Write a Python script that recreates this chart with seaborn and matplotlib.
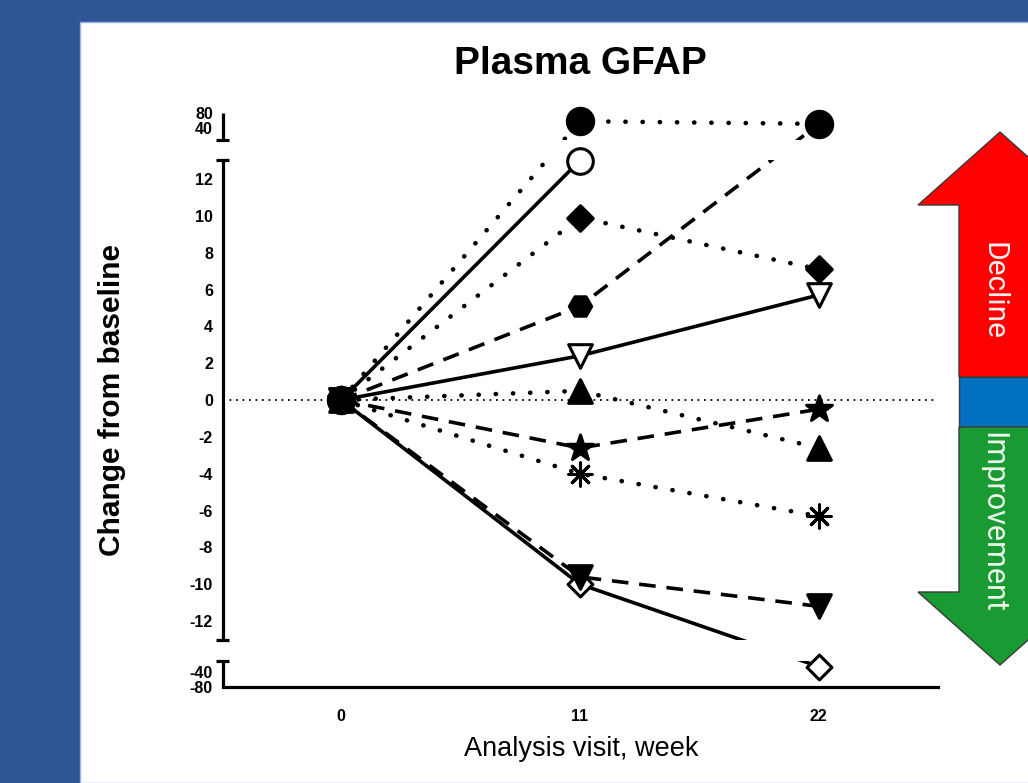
import numpy as np
import pandas as pd
import matplotlib
matplotlib.use("Agg")
import matplotlib.pyplot as plt
from matplotlib.patches import Polygon, Rectangle
import seaborn as sns

# values (change from baseline)
weeks = [0, 11, 22]
circle_filled = [0, 58, 51]
circle_open = [0, 13.0, np.nan]
diamond_filled = [0, 9.9, 7.1]
hexagon_filled = [0, 5.1, 50]
tri_down_open = [0, 2.4, 5.7]
tri_up_filled = [0, 0.5, -2.6]
star_filled = [0, -2.6, -0.5]
asterisk = [0, -4.0, -6.3]
tri_down_filled = [0, -9.6, -11.2]
diamond_open = [0, -10.0, -35]

ytick_vals = [-80, -40, -12, -10, -8, -6, -4, -2, 0, 2, 4, 6, 8, 10, 12, 40, 80]
xtick_vals = [0, 11, 22]

series = {
    "circle_open": circle_open,
    "tri_down_open": tri_down_open,
    "diamond_open": diamond_open,
    "circle_filled": circle_filled,
    "diamond_filled": diamond_filled,
    "hexagon_filled": hexagon_filled,
    "tri_up_filled": tri_up_filled,
    "star_filled": star_filled,
    "asterisk": asterisk,
    "tri_down_filled": tri_down_filled,
}

dot = (0, (0.05, 3.7))
dash = (0, (4.6, 3.0))
styles = {
    "circle_filled": ("o", "black", dot, 360),
    "circle_open": ("o", "white", "-", 340),
    "diamond_filled": ("D", "black", dot, 170),
    "hexagon_filled": ("H", "black", dash, 260),
    "tri_down_open": ("v", "white", "-", 290),
    "tri_up_filled": ("^", "black", dot, 290),
    "star_filled": ("*", "black", dash, 380),
    "asterisk": ((8, 2, 0), "black", dot, 280),
    "tri_down_filled": ("v", "black", dash, 290),
    "diamond_open": ("D", "white", "-", 160),
}

rows = []
for name, vals in series.items():
    for w, v in zip(weeks, vals):
        rows.append({"series": name, "week": w, "change": v})
df = pd.DataFrame(rows).dropna()

sns.set_style("white")
plt.rcParams["font.family"] = ["Liberation Sans", "DejaVu Sans"]
plt.rcParams["text.color"] = "black"
plt.rcParams["axes.labelcolor"] = "black"

W, H = 1028, 783
fig = plt.figure(figsize=(W / 100, H / 100), dpi=100, facecolor="#2F5597")
fig.patches.append(Rectangle((80 / W, 0), 1, 1 - 22 / H, transform=fig.transFigure,
                             facecolor="white", edgecolor="#9DB3DD", lw=1, zorder=-5))

ax = fig.add_axes([222.7 / W, 1 - 687 / H, (938 - 222.7) / W, (687 - 113) / H])
ax.set_facecolor("none")

# broken y axis: three linear segments, like the original
seg_data = [-200, -80, -40, -30, -13, 13.03, 30, 40, 80, 200]
seg_pix = [738, 687, 672, 661, 639.5, 160, 140, 128, 113, 68]


def fwd(y):
    return -np.interp(y, seg_data, seg_pix)


def inv(t):
    return np.interp(t, [-p for p in seg_pix], seg_data)


ax.set_yscale("function", functions=(fwd, inv))
ax.set_ylim(-80, 80)
ax.set_xlim(-5.46, 27.5)

ax.axhline(0, color="black", lw=1.3, ls=(0, (1, 2.6)), zorder=1)

for name in series:
    m, fc, ls, s = styles[name]
    d = df[df["series"] == name]
    sns.lineplot(data=d, x="week", y="change", ax=ax, color="black",
                 lw=3.3 if ls == dot else 2.6,
                 linestyle=ls, dash_capstyle="round" if ls == dot else "butt", zorder=2)

# blank out the breaks between segments
ax.axhspan(13.1, 30, color="white", zorder=2.5, lw=0)
ax.axhspan(-30, -13.05, color="white", zorder=2.5, lw=0)

for name in series:
    m, fc, ls, s = styles[name]
    d = df[df["series"] == name]
    sns.scatterplot(data=d, x="week", y="change", ax=ax, marker=m, s=s,
                    facecolor=fc, edgecolor="black", linewidth=2.2,
                    zorder=4, clip_on=False)

# axes styling
for side in ["left", "top", "right"]:
    ax.spines[side].set_visible(False)
ax.spines["bottom"].set_linewidth(2.3)
ax.spines["bottom"].set_color("black")
ax.set_xticks(xtick_vals)
ax.set_xticklabels([str(v) for v in xtick_vals], fontweight="bold", fontsize=11.5)
ax.set_yticks(ytick_vals)
ax.set_yticklabels([str(v) for v in ytick_vals], fontweight="bold", fontsize=11.5)
ax.yaxis.set_minor_locator(matplotlib.ticker.NullLocator())
ax.tick_params(axis="x", direction="out", length=9, width=2.3, pad=7, colors="black")
ax.tick_params(axis="y", direction="out", length=5, width=2.0, pad=2, colors="black")
ax.set_xlabel("")
ax.set_ylabel("")

yt = ax.get_yaxis_transform()
cap = 0.0095
for lo, hi in [(30, 80), (-13, 13.03), (-80, -30)]:
    ax.plot([0, 0], [lo, hi], color="black", lw=2.3, transform=yt, clip_on=False,
            zorder=5, solid_capstyle="butt")
for c in [30, 13.03, -13, -30]:
    ax.plot([-cap, cap], [c, c], color="black", lw=2.3, transform=yt, clip_on=False,
            zorder=5, solid_capstyle="butt")

fig.text(580 / W, 1 - 64 / H, "Plasma GFAP", ha="center", va="center",
         fontsize=28, fontweight="bold")
fig.text(112 / W, 1 - 400 / H, "Change from baseline", ha="center", va="center",
         rotation=90, fontsize=21.5, fontweight="bold")
fig.text(581 / W, 1 - 749 / H, "Analysis visit, week", ha="center", va="center",
         fontsize=19.5)

# decline / improvement arrow on the right
def px(pts):
    return [(x / W, 1 - y / H) for x, y in pts]


red = px([(1000, 132), (918, 205), (959, 205), (959, 377), (1041, 377), (1041, 205), (1082, 205)])
blue = px([(959, 377), (1041, 377), (1041, 427), (959, 427)])
green = px([(959, 427), (1041, 427), (1041, 592), (1082, 592), (1000, 665), (918, 592), (959, 592)])
for pts, col in [(red, "#FF0000"), (blue, "#0070C0"), (green, "#1A9A33")]:
    fig.patches.append(Polygon(pts, closed=True, transform=fig.transFigure,
                               facecolor=col, edgecolor="#3A3A3A", lw=1, zorder=3))

fig.text(993 / W, 1 - 291 / H, "Decline", ha="center", va="center", rotation=-90,
         fontsize=21.5, color="#FBEFEF", family=["Roboto", "DejaVu Sans"], zorder=4)
fig.text(993 / W, 1 - 522 / H, "Improvement", ha="center", va="center", rotation=-90,
         fontsize=22, color="#EAF6EA", family=["Roboto", "DejaVu Sans"], zorder=4)

fig.savefig("out.png", dpi=100, facecolor=fig.get_facecolor())
